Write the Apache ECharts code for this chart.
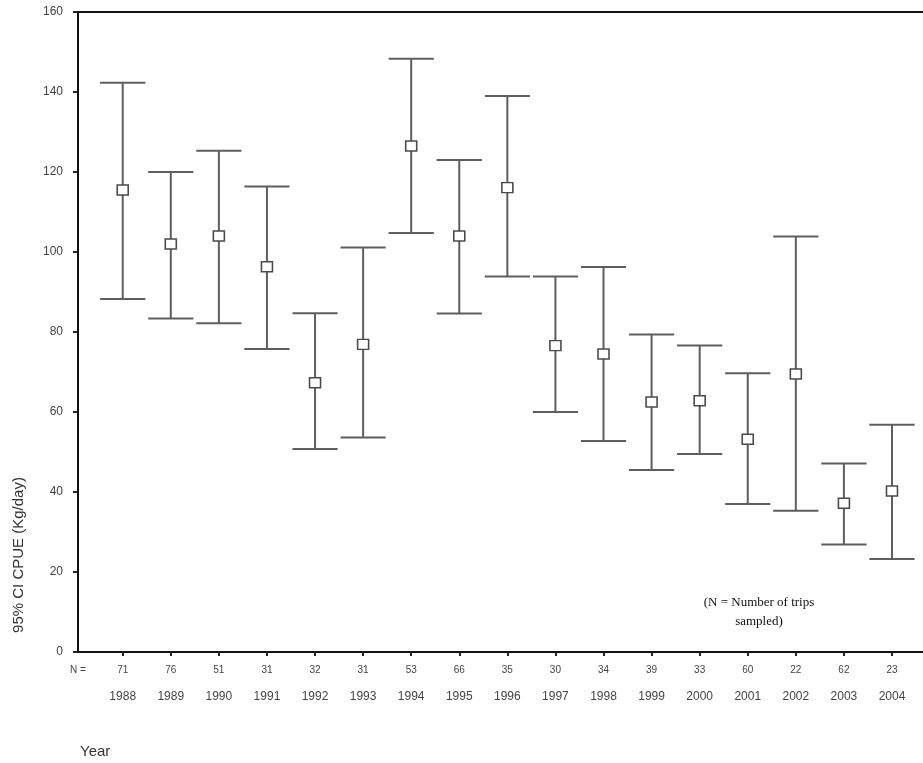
<!DOCTYPE html>
<html>
<head>
<meta charset="utf-8">
<script src="https://cdn.jsdelivr.net/npm/echarts@6/dist/echarts.min.js"></script>
<style>
html,body{margin:0;padding:0;background:#fff;}
#chart{width:923px;height:763px;}
</style>
</head>
<body>
<div id="chart"></div>
<script>
var years = [1988,1989,1990,1991,1992,1993,1994,1995,1996,1997,1998,1999,2000,2001,2002,2003,2004];
var nTrips = [71,76,51,31,32,31,53,66,35,30,34,39,33,60,22,62,23];
var means = [115.5,102,104,96.3,67.3,76.9,126.5,104,116.1,76.6,74.5,62.5,62.8,53.2,69.5,37.2,40.25];
var upper = [142.3,120,125.3,116.4,84.7,101.1,148.3,123,139,93.9,96.25,79.4,76.6,69.7,103.9,47.1,56.8];
var lower = [88.25,83.4,82.2,75.75,50.75,53.6,104.75,84.6,93.9,60,52.75,45.5,49.5,37,35.3,26.9,23.25];
var yTicks = [0,20,40,60,80,100,120,140,160];

var X_MIN = 1987.07, X_MAX = 2004.645;
var nLabelValues = [X_MIN].concat(years);

var ciData = years.map(function (y, i) { return [y, lower[i], upper[i]]; });
var meanData = years.map(function (y, i) { return [y, means[i]]; });

var chart = echarts.init(document.getElementById('chart'), null, {renderer: 'canvas'});
var LINE = '#5e5e5e';
var option = {
  animation: false,
  backgroundColor: '#ffffff',
  grid: {left: 78, right: 0, top: 12, bottom: 111, containLabel: false},
  xAxis: [
    {
      type: 'value', position: 'bottom', min: X_MIN, max: X_MAX,
      splitLine: {show: false},
      axisLine: {show: true, onZero: false, lineStyle: {color: '#111', width: 2}},
      axisTick: {show: true, length: 4, inside: false, customValues: years, lineStyle: {color: '#222', width: 2}},
      axisLabel: {
        show: true, margin: 13, customValues: nLabelValues,
        fontFamily: 'Liberation Sans', fontSize: 10, color: '#444',
        formatter: function (v) {
          var idx = years.indexOf(Math.round(v));
          if (Math.abs(v - X_MIN) < 0.01) return 'N =';
          return idx >= 0 ? String(nTrips[idx]) : '';
        }
      }
    },
    {
      type: 'value', position: 'top', min: X_MIN, max: X_MAX,
      splitLine: {show: false},
      axisLine: {show: true, onZero: false, lineStyle: {color: '#111', width: 2}},
      axisTick: {show: false}, axisLabel: {show: false}
    },
    {
      type: 'value', position: 'bottom', min: X_MIN, max: X_MAX,
      splitLine: {show: false},
      axisLine: {show: false}, axisTick: {show: false},
      axisLabel: {
        show: true, margin: 39, customValues: years,
        fontFamily: 'Liberation Sans', fontSize: 12, color: '#444',
        formatter: function (v) { return String(Math.round(v)); }
      }
    }
  ],
  yAxis: {
    type: 'value', min: 0, max: 160, interval: 20,
    splitLine: {show: false},
    axisLine: {show: true, lineStyle: {color: '#111', width: 2}},
    axisTick: {show: true, length: 5, lineStyle: {color: '#222', width: 2}},
    axisLabel: {margin: 15, fontFamily: 'Liberation Sans', fontSize: 12, color: '#444',
      formatter: function (v) { return yTicks.indexOf(v) >= 0 ? String(v) : ''; }}
  },
  graphic: [
    {
      type: 'text', x: 19, y: 555, rotation: Math.PI / 2,
      style: {text: '95% CI CPUE (Kg/day)', fontFamily: 'Liberation Sans', fontSize: 15,
        fill: '#333', align: 'center', verticalAlign: 'middle'}
    },
    {
      type: 'text', x: 80, y: 752,
      style: {text: 'Year', fontFamily: 'Liberation Sans', fontSize: 15,
        fill: '#333', align: 'left', verticalAlign: 'middle'}
    },
    {
      type: 'text', x: 759, y: 612,
      style: {text: '(N = Number of trips\nsampled)', fontFamily: 'Liberation Serif', fontSize: 13,
        lineHeight: 19, fill: '#111', align: 'center', verticalAlign: 'middle'}
    }
  ],
  series: [
    {
      type: 'custom', xAxisIndex: 0, yAxisIndex: 0,
      data: ciData,
      encode: {x: 0, y: [1, 2]},
      renderItem: function (params, api) {
        var x = api.value(0);
        var lo = api.coord([x, api.value(1)]);
        var hi = api.coord([x, api.value(2)]);
        var hw = api.size([1, 0])[0] * 0.47;
        var st = {stroke: LINE, lineWidth: 2};
        return {
          type: 'group',
          children: [
            {type: 'line', shape: {x1: lo[0], y1: lo[1], x2: hi[0], y2: hi[1]}, style: st},
            {type: 'line', shape: {x1: hi[0] - hw, y1: hi[1], x2: hi[0] + hw, y2: hi[1]}, style: st},
            {type: 'line', shape: {x1: lo[0] - hw, y1: lo[1], x2: lo[0] + hw, y2: lo[1]}, style: st}
          ]
        };
      },
      z: 2
    },
    {
      type: 'scatter', xAxisIndex: 0, yAxisIndex: 0,
      data: meanData,
      symbol: 'rect', symbolSize: [11, 10],
      itemStyle: {color: '#ffffff', borderColor: '#4a4a4a', borderWidth: 1.5, opacity: 1},
      z: 3
    }
  ]
};
chart.setOption(option);
</script>
</body>
</html>
